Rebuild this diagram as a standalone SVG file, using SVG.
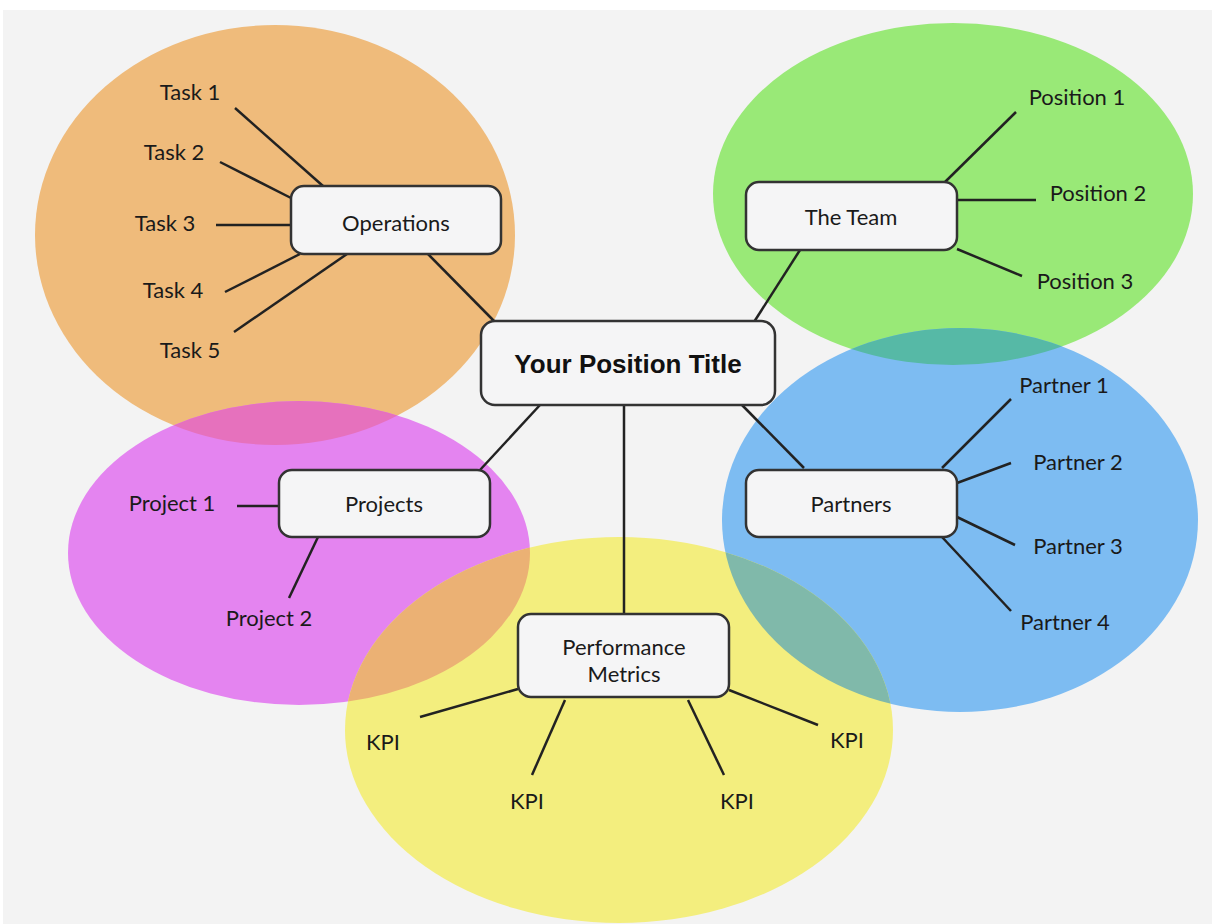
<svg xmlns="http://www.w3.org/2000/svg" width="1212" height="924" viewBox="0 0 1212 924">
<style>
.box{fill:#f5f5f6;stroke:#333;stroke-width:2.5}
.lbl{font-family:Lato,"Open Sans",sans-serif;font-size:22px;fill:#1a1a1a;text-anchor:middle}
.title{font-family:"Liberation Sans",Arial,sans-serif;font-weight:bold;font-size:26px;fill:#111;text-anchor:middle}
#connectors line{stroke:#222;stroke-width:2.5}
</style>
<defs>
<clipPath id="cOrange"><ellipse cx="275" cy="235" rx="240" ry="210"/></clipPath>
<clipPath id="cGreen"><ellipse cx="953" cy="194" rx="240" ry="171"/></clipPath>
<clipPath id="cYellow"><ellipse cx="619" cy="730" rx="274" ry="193"/></clipPath>
</defs>
<rect width="1212" height="924" fill="#ffffff"/>
<rect x="3" y="10" width="1209" height="914" fill="#f3f3f3"/>
<g id="regions">
<ellipse cx="275" cy="235" rx="240" ry="210" fill="#efbb7b"/>
<ellipse cx="953" cy="194" rx="240" ry="171" fill="#99e977"/>
<ellipse cx="299" cy="553" rx="231" ry="152" fill="#e484f0"/>
<ellipse cx="960" cy="520" rx="238" ry="192" fill="#7dbcf2"/>
<ellipse cx="619" cy="730" rx="274" ry="193" fill="#f3ee7e"/>
<ellipse cx="299" cy="553" rx="231" ry="152" fill="#e671bd" clip-path="url(#cOrange)"/>
<ellipse cx="299" cy="553" rx="231" ry="152" fill="#ebb174" clip-path="url(#cYellow)"/>
<ellipse cx="960" cy="520" rx="238" ry="192" fill="#80b9aa" clip-path="url(#cYellow)"/>
<ellipse cx="960" cy="520" rx="238" ry="192" fill="#56b9a6" clip-path="url(#cGreen)"/>
</g>
<g id="connectors">
<line x1="235" y1="108" x2="323" y2="186"/>
<line x1="220" y1="162" x2="291" y2="198"/>
<line x1="216" y1="225" x2="291" y2="225"/>
<line x1="225" y1="292" x2="300" y2="254"/>
<line x1="234" y1="332" x2="347" y2="254"/>
<line x1="428" y1="254" x2="495" y2="322"/>
<line x1="754" y1="322" x2="800" y2="250"/>
<line x1="945" y1="182" x2="1016" y2="112"/>
<line x1="957" y1="200" x2="1036" y2="200"/>
<line x1="957" y1="249" x2="1022" y2="276"/>
<line x1="540" y1="405" x2="480" y2="470"/>
<line x1="237" y1="506" x2="279" y2="506"/>
<line x1="318" y1="537" x2="289" y2="598"/>
<line x1="742" y1="405" x2="804" y2="468"/>
<line x1="942" y1="468" x2="1011" y2="399"/>
<line x1="957" y1="483" x2="1011" y2="463"/>
<line x1="957" y1="517" x2="1015" y2="545"/>
<line x1="942" y1="537" x2="1011" y2="611"/>
<line x1="624" y1="405" x2="624" y2="614"/>
<line x1="420" y1="717" x2="518" y2="689"/>
<line x1="565" y1="700" x2="532" y2="775"/>
<line x1="688" y1="700" x2="724" y2="775"/>
<line x1="729" y1="690" x2="818" y2="725"/>
</g>
<g id="operations">
<rect class="box" x="291" y="186" width="210" height="68" rx="13"/>
<text class="lbl" x="396" y="231">Operations</text>
<text class="lbl" x="190" y="100">Task 1</text>
<text class="lbl" x="174" y="160">Task 2</text>
<text class="lbl" x="165" y="231">Task 3</text>
<text class="lbl" x="173" y="298">Task 4</text>
<text class="lbl" x="190" y="358">Task 5</text>
</g>
<g id="team">
<rect class="box" x="746" y="182" width="211" height="68" rx="13"/>
<text class="lbl" x="851" y="225">The Team</text>
<text class="lbl" x="1077" y="105">Position 1</text>
<text class="lbl" x="1098" y="201">Position 2</text>
<text class="lbl" x="1085" y="289">Position 3</text>
</g>
<g id="center">
<rect class="box" x="481" y="321" width="294" height="84" rx="14"/>
<text class="title" x="628" y="373">Your Position Title</text>
</g>
<g id="projects">
<rect class="box" x="279" y="470" width="211" height="67" rx="13"/>
<text class="lbl" x="384" y="512">Projects</text>
<text class="lbl" x="172" y="511">Project 1</text>
<text class="lbl" x="269" y="626">Project 2</text>
</g>
<g id="partners">
<rect class="box" x="746" y="470" width="211" height="67" rx="13"/>
<text class="lbl" x="851" y="512">Partners</text>
<text class="lbl" x="1064" y="393">Partner 1</text>
<text class="lbl" x="1078" y="470">Partner 2</text>
<text class="lbl" x="1078" y="554">Partner 3</text>
<text class="lbl" x="1065" y="630">Partner 4</text>
</g>
<g id="performance">
<rect class="box" x="518" y="614" width="211" height="83" rx="13"/>
<text class="lbl" x="624" y="655">Performance</text>
<text class="lbl" x="624" y="682">Metrics</text>
<text class="lbl" x="383" y="750">KPI</text>
<text class="lbl" x="527" y="809">KPI</text>
<text class="lbl" x="737" y="809">KPI</text>
<text class="lbl" x="847" y="748">KPI</text>
</g>
</svg>
